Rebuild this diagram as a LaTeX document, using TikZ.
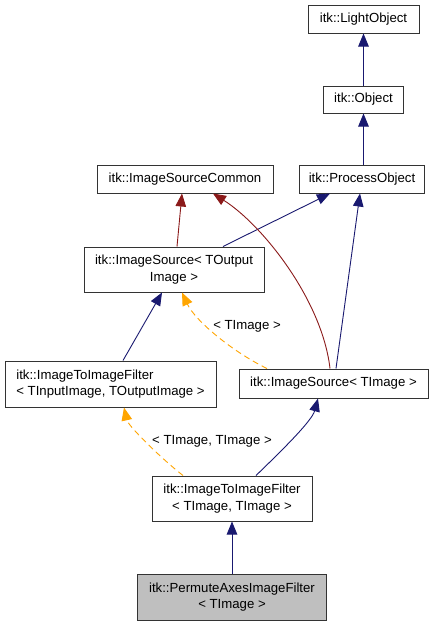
\documentclass[tikz,border=0pt]{standalone}
\usepackage{fontspec}
\setmainfont{Liberation Sans}
\usetikzlibrary{arrows.meta}
\definecolor{navyc}{HTML}{191970}
\definecolor{redc}{HTML}{8B1A1A}
\definecolor{orangec}{HTML}{FFA500}
\definecolor{fillc}{HTML}{BFBFBF}
\definecolor{borderc}{HTML}{333333}
\begin{document}
\begin{tikzpicture}[x=1pt,y=-1pt,
  box/.style={draw=borderc, line width=1pt, rectangle, inner sep=0pt, align=center,
    font=\fontsize{13.2}{16.5}\selectfont},
  lbl/.style={inner sep=0pt, font=\fontsize{13.2}{16.5}\selectfont},
  tip/.style={-{Triangle[length=13pt,width=10.5pt]}},
  inh/.style={tip, draw=navyc, line width=0.9pt},
  use/.style={tip, draw=redc, line width=0.9pt},
  tmpl/.style={tip, draw=orangec, line width=0.9pt, dash pattern=on 6pt off 4pt},
]
\useasboundingbox (0,0) rectangle (435,627);
\fill[white] (0,0) rectangle (435,627);

\node[box, minimum width=111pt, minimum height=28pt] (light) at (363.5,19) {itk::LightObject};
\node[box, minimum width=80pt, minimum height=27pt] (obj) at (363.5,99.5) {itk::Object};
\node[box, minimum width=176pt, minimum height=28pt] (isc) at (185,179) {itk::ImageSourceCommon};
\node[box, minimum width=125pt, minimum height=28pt] (proc) at (362,179) {itk::ProcessObject};
\node[box, minimum width=180pt, minimum height=45pt] (iso) at (174,269.5) {itk::ImageSource< TOutput\\Image >};
\node[box, align=left, minimum width=211pt, minimum height=46pt] (itiin) at (110.5,384) {itk::ImageToImageFilter\\< TInputImage, TOutputImage >};
\node[box, minimum width=189pt, minimum height=29pt] (isimg) at (333.5,383.5) {itk::ImageSource< TImage >};
\node[box, minimum width=160pt, minimum height=45pt] (iti) at (232,498.5) {itk::ImageToImageFilter\\< TImage, TImage >};
\node[box, fill=fillc, minimum width=189pt, minimum height=46pt] (perm) at (232,597) {itk::PermuteAxesImageFilter\\< TImage >};

\node[lbl] (l1) at (247,326) {< TImage >};
\node[lbl] (l2) at (212,441) {< TImage, TImage >};

\draw[inh] (obj.north) -- (light.south);
\draw[inh] ([xshift=1.5pt]proc.north) -- (obj.south);
\draw[use] ([xshift=3pt]iso.north) -- ([xshift=-3pt]isc.south);
\draw[inh] ([xshift=49pt]iso.north) -- ([xshift=-32pt]proc.south);
\draw[use] ([xshift=-3.5pt]isimg.north) .. controls +(-8,-69) and +(49,31) .. ([xshift=28pt]isc.south);
\draw[inh] ([xshift=2.5pt]isimg.north) -- ([xshift=-2pt]proc.south);
\draw[inh] ([xshift=12.5pt]itiin.north) -- ([xshift=-12pt]iso.south);
\draw[tmpl] ([xshift=-66.5pt]isimg.north) .. controls +(-35,-17) and +(13,28) .. ([xshift=8pt]iso.south);
\draw[tmpl] ([xshift=-49pt]iti.north) .. controls +(-23,-18) and +(4,18) .. ([xshift=13.5pt]itiin.south);
\draw[inh] ([xshift=24pt]iti.north) .. controls +(29,-28) and +(-6,22) .. ([xshift=-15.5pt]isimg.south);
\draw[inh] (perm.north) -- (iti.south);
\end{tikzpicture}
\end{document}
